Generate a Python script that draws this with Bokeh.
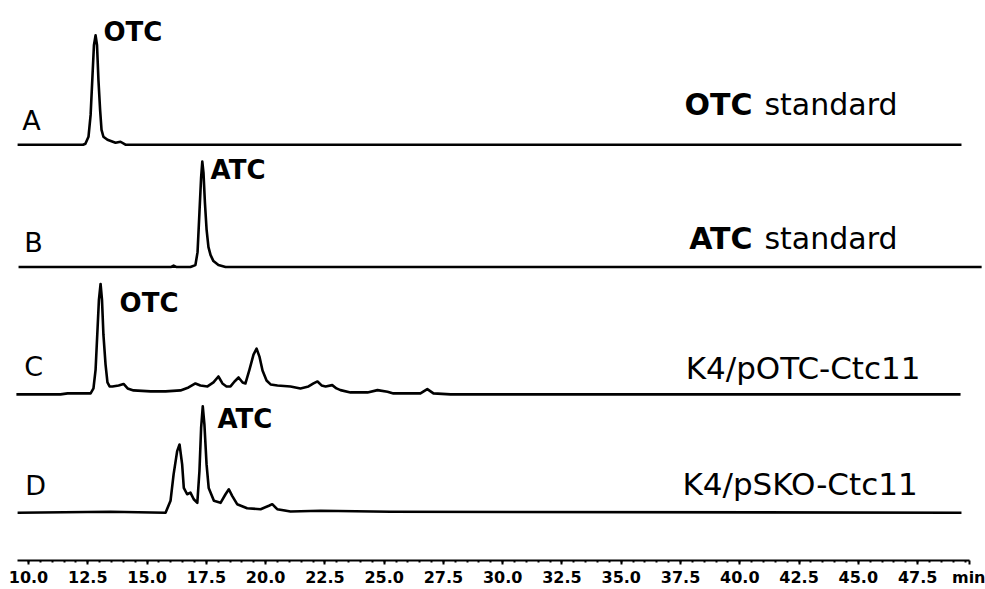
from bokeh.plotting import figure
from bokeh.models import Range1d, FixedTicker, Label
from bokeh.embed import file_html
from bokeh.resources import INLINE

# ---- data (retention time in min, signal in arbitrary units) ----
a_time = [9.54, 12.30, 12.40, 12.53, 12.62, 12.70, 12.76, 12.83, 12.89, 12.95, 13.02, 13.08,
          13.16, 13.33, 13.67, 13.88, 14.09, 49.35]
a_signal = [0, 0, 1, 8, 30, 70, 100, 110, 100, 65, 35, 15, 8, 5, 2, 3, 0, 0]

b_time = [9.58, 16.00, 16.12, 16.25, 16.83, 17.04, 17.13, 17.21, 17.28, 17.33, 17.38, 17.44,
          17.51, 17.59, 17.68, 17.80, 18.01, 18.31, 50.2]
b_signal = [0, 0, 1.5, 0, 0, 2, 15, 55, 90, 106, 95, 65, 38, 20, 12, 6, 2, 0, 0]

c_time = [9.49, 11.35, 11.65, 12.62, 12.74, 12.83, 12.91, 12.97, 13.04, 13.10, 13.16, 13.25,
          13.33, 13.42, 13.54, 13.80, 14.01, 14.18, 14.43, 15.15, 15.78, 16.41, 16.75, 17.04,
          17.25, 17.55, 17.80, 18.01, 18.18, 18.35, 18.52, 18.69, 18.86, 19.03, 19.15, 19.32,
          19.49, 19.62, 19.74, 19.87, 20.04, 20.21, 20.50, 21.05, 21.47, 21.81, 22.02, 22.19,
          22.36, 22.53, 22.81, 22.99, 23.16, 23.58, 24.30, 24.72, 25.14, 25.39, 26.53, 26.82,
          27.08, 27.80, 49.31]
c_signal = [0, 0, 1, 1, 6, 25, 65, 95, 111, 95, 60, 30,
            12, 8, 8, 9, 10.5, 6, 4, 3, 3, 4, 7, 11,
            9, 8, 12, 18, 11, 8, 8, 13, 17, 12, 11, 25,
            40, 46, 38, 24, 14, 10, 9, 8, 6, 8, 11, 13,
            9, 8, 9.3, 6, 4.3, 2, 2, 4.3, 2.7, 1, 1, 5.3,
            1, 0, 0]

d_time = [9.54, 13.46, 15.78, 15.99, 16.12, 16.27, 16.37, 16.48, 16.55, 16.69, 16.83, 16.97,
          17.12, 17.21, 17.28, 17.35, 17.42, 17.51, 17.60, 17.82, 18.10, 18.31, 18.45, 18.59,
          18.80, 19.22, 19.79, 20.14, 20.28, 20.49, 21.05, 22.32, 25.27, 49.35]
d_signal = [0, 1, 0, 12, 38.6, 62, 68.6, 48.6, 25, 18.6, 20.3, 13.6,
            10, 42, 85, 107, 88.6, 48.6, 25, 12, 10, 18.6, 23.6, 17,
            8.6, 4.6, 3.6, 7, 8.6, 3.6, 1.3, 2, 1, 0]

trace_letters = ["A", "B", "C", "D"]
peak_names = ["OTC", "ATC", "OTC", "ATC"]
sample_names = ["OTC standard", "ATC standard", "K4/pOTC-Ctc11", "K4/pSKO-Ctc11"]

tick_values = [10.0, 12.5, 15.0, 17.5, 20.0, 22.5, 25.0, 27.5, 30.0, 32.5, 35.0, 37.5,
               40.0, 42.5, 45.0, 47.5, 49.7]
tick_labels = ["10.0", "12.5", "15.0", "17.5", "20.0", "22.5", "25.0", "27.5", "30.0",
               "32.5", "35.0", "37.5", "40.0", "42.5", "45.0", "47.5", "min"]
minor_values = [10.0 + 0.5 * i for i in range(80)]

# ---- layout (vertical stacking offsets, label placements) ----
offsets = [418, 295, 167, 48]
letter_pos = [(9.74, 442), (9.82, 320), (9.82, 195), (9.86, 75)]
peak_pos = [(13.16, 531), (17.68, 393), (13.84, 259), (17.97, 142)]

p = figure(width=985, height=589, output_backend="svg", toolbar_location=None,
           x_range=Range1d(8.819, 50.363), y_range=Range1d(0, 563),
           y_axis_location=None, min_border_left=0, min_border_right=0,
           min_border_top=0, min_border_bottom=0)
p.outline_line_color = None
p.grid.visible = False
p.background_fill_color = "white"
p.border_fill_color = "white"

series = [(a_time, a_signal), (b_time, b_signal), (c_time, c_signal), (d_time, d_signal)]
for (t, s), off in zip(series, offsets):
    p.line(t, [v + off for v in s], line_color="black", line_width=2.6, line_join="round")

ax = p.xaxis[0]
ax.ticker = FixedTicker(ticks=tick_values, minor_ticks=minor_values)
ax.major_label_overrides = {v: l for v, l in zip(tick_values, tick_labels)}
ax.bounds = (9.54, 49.7)
ax.axis_line_width = 2
ax.axis_line_color = "black"
ax.major_tick_line_width = 2
ax.minor_tick_line_width = 2
ax.major_tick_in = 0
ax.major_tick_out = 4
ax.minor_tick_in = 0
ax.minor_tick_out = 2
ax.major_label_standoff = 3
ax.major_label_text_font = "DejaVu Sans"
ax.major_label_text_font_style = "bold"
ax.major_label_text_font_size = "16px"
ax.major_label_text_color = "black"

for letter, (lx, ly) in zip(trace_letters, letter_pos):
    p.add_layout(Label(x=lx, y=ly, text=letter, text_align="left", text_baseline="alphabetic",
                       text_font="DejaVu Sans", text_font_size="27px", text_color="black"))

for name, (px_, py_) in zip(peak_names, peak_pos):
    p.add_layout(Label(x=px_, y=py_, text=name, text_align="left", text_baseline="alphabetic",
                       text_font="DejaVu Sans", text_font_style="bold", text_font_size="26px",
                       text_color="black"))

# standards: bold compound name + regular "standard"
for i, ybase in [(0, 458), (1, 324)]:
    comp, rest = sample_names[i].split(" ", 1)
    p.add_layout(Label(x=40.54, y=ybase, text=comp, text_align="right", text_baseline="alphabetic",
                       text_font="DejaVu Sans", text_font_style="bold", text_font_size="30px",
                       text_color="black"))
    p.add_layout(Label(x=41.04, y=ybase, text=rest, text_align="left", text_baseline="alphabetic",
                       text_font="DejaVu Sans", text_font_size="30px", text_color="black"))

for i, (cx, ybase) in [(2, (42.67, 194)), (3, (42.54, 77))]:
    p.add_layout(Label(x=cx, y=ybase, text=sample_names[i], text_align="center",
                       text_baseline="alphabetic", text_font="DejaVu Sans",
                       text_font_size="31px", text_color="black"))

open("out.html", "w").write(file_html(p, INLINE))
